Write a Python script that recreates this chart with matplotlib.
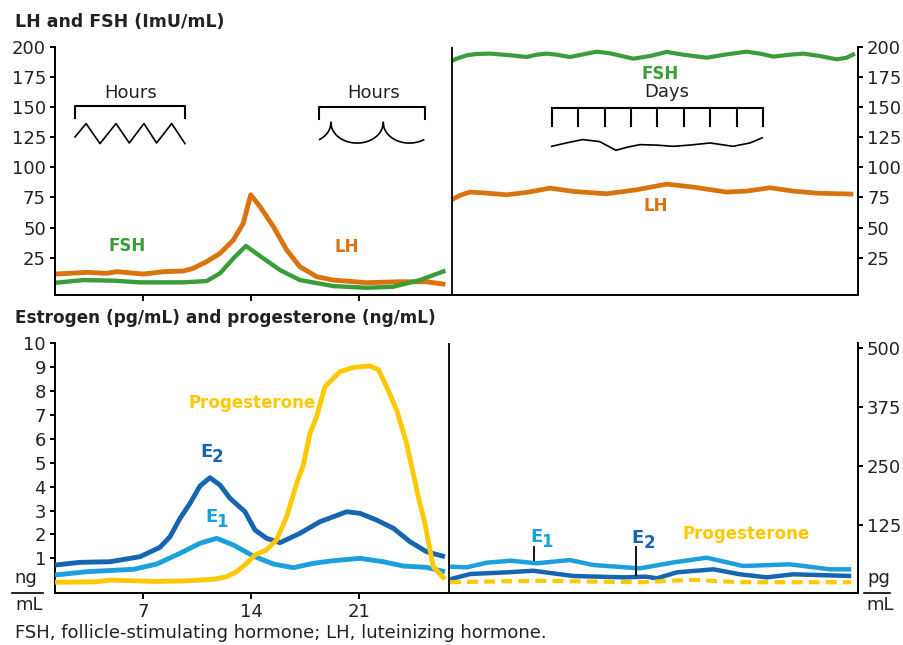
import matplotlib
matplotlib.use("Agg")
import matplotlib.pyplot as plt
from matplotlib.lines import Line2D
import numpy as np

plt.rcParams['font.family'] = ['DejaVu Sans']

C_LH = '#D9730D'
C_FSH = '#3A9D3A'
C_E2 = '#1565B0'
C_E1 = '#1BA0DD'
C_PROG = '#FFC800'
C_TXT = '#222222'

# ---------------- Menstrual cycle: gonadotropins (mIU/mL) ----------------
lh_day = [1.35, 3.35, 4.64, 5.29, 7.02, 8.32, 9.61, 10.26, 11.13, 11.99, 12.86,
          13.5, 13.98, 14.58, 15.45, 16.31, 17.17, 18.25, 19.33, 21.5, 23.65,
          25.38, 26.6]
lh = [11.4, 12.8, 12.0, 13.4, 11.4, 13.4, 13.9, 16.2, 21.7, 28.6, 39.7,
      53.6, 77.2, 67.5, 50.8, 31.4, 17.5, 9.2, 6.4, 4.2, 5.0, 5.0, 2.8]

fsh_day = [1.35, 3.13, 5.07, 6.80, 9.61, 11.13, 11.99, 12.86, 13.67, 14.58,
           15.88, 17.17, 19.33, 21.5, 23.2, 24.95, 26.6]
fsh = [4.2, 6.4, 5.9, 4.5, 4.5, 5.6, 12.0, 24.5, 34.7, 26.4,
       14.7, 6.4, 1.4, 0.0, 0.8, 6.4, 14.2]

# ---------------- Postmenopause: gonadotropins ----------------
post_fsh_day = [27.0, 27.33, 27.98, 28.62, 29.49, 30.57, 31.86, 32.51, 33.16,
                33.81, 34.67, 35.54, 36.40, 37.27, 38.78, 39.86, 40.94, 42.02,
                43.53, 44.83, 46.12, 46.99, 47.85, 48.93, 49.79, 50.87, 51.96,
                52.60, 53.14]
post_fsh = [188.4, 190.3, 193.1, 194.2, 194.5, 193.4, 191.7, 193.6, 194.5,
            193.6, 191.7, 193.9, 196.1, 194.75, 190.3, 192.5, 195.9, 193.6,
            191.1, 193.9, 196.1, 194.5, 192.0, 193.6, 194.5, 192.5, 189.75,
            191.1, 194.5]

post_lh_day = [27.0, 27.54, 28.19, 29.27, 30.57, 31.86, 33.38, 34.89, 37.05,
               38.99, 40.94, 42.67, 44.83, 46.12, 47.63, 49.15, 50.66, 53.04]
post_lh = [73.1, 76.7, 79.5, 78.6, 77.25, 79.2, 82.8, 80.0, 78.1,
           81.4, 86.1, 83.6, 79.5, 80.3, 83.1, 80.3, 78.6, 77.8]

# ---------------- Menstrual cycle: steroids ----------------
e2_day = [1.30, 2.92, 4.86, 6.80, 8.10, 8.75, 9.40, 10.05, 10.69, 11.34, 11.99,
          12.64, 13.61, 14.26, 15.01, 15.88, 17.17, 18.47, 20.2, 21.06, 22.14,
          23.23, 24.3, 25.38, 26.57]
e2 = [40.3, 46.0, 47.3, 57.9, 77.9, 100.4, 139.4, 171.3, 208.0, 225.6, 210.0,
      181.9, 153.4, 114.6, 97.0, 87.7, 107.6, 132.2, 153.4, 150.0, 135.8,
      118.2, 89.8, 68.5, 57.9]          # pg/mL

e1_day = [1.30, 3.35, 6.37, 7.89, 9.40, 10.69, 11.77, 12.86, 14.15, 15.45,
          16.74, 18.04, 19.33, 21.06, 22.57, 23.87, 25.38, 26.57]
e1 = [19.1, 26.1, 31.2, 42.4, 65.2, 86.4, 97.0, 82.8, 59.4, 42.4,
      34.6, 43.9, 49.5, 54.5, 47.3, 38.2, 35.4, 26.1]     # pg/mL

prog_day = [1.30, 2.05, 4.0, 4.86, 7.89, 9.83, 11.56, 12.42, 13.07, 13.72,
            14.26, 15.0, 15.66, 16.31, 16.96, 17.39, 17.82, 18.25, 18.79,
            19.76, 20.63, 21.71, 22.25, 22.79, 23.44, 24.09, 24.84, 25.27,
            25.81, 26.57]
prog = [0.0, 0.0, 0.02, 0.09, 0.03, 0.06, 0.12, 0.23, 0.44, 0.79,
        1.14, 1.35, 1.77, 2.74, 4.14, 4.9, 6.23, 6.92, 8.18,
        8.81, 8.99, 9.05, 8.9, 8.18, 7.2, 5.81, 3.58, 2.46,
        0.65, 0.12]                       # ng/mL

# ---------------- Postmenopause: steroids ----------------
post_e1_day = [26.9, 27.98, 29.27, 30.85, 32.5, 34.67, 36.18, 39.2, 41.4,
               43.53, 45.9, 48.93, 51.52, 52.9]
post_e1 = [36.8, 35.4, 45.3, 49.5, 43.9, 50.9, 40.3, 33.3, 46.0,
           55.8, 38.2, 41.8, 31.2, 31.2]

post_e2_day = [26.9, 28.19, 30.57, 32.3, 34.89, 38.13, 39.6, 40.3, 41.6,
               43.97, 45.69, 47.42, 49.14, 52.9]
post_e2 = [10.0, 21.2, 24.8, 28.2, 17.0, 14.2, 15.6, 12.1, 24.8,
           31.2, 20.6, 14.2, 20.6, 17.0]

post_prog_day = [26.9, 30.57, 32.5, 39.2, 42.6, 45.7, 52.9]
post_prog = [0.0, 0.04, 0.06, 0.0, 0.1, 0.0, 0.0]

cycle_ticks = [7, 14, 21]
gonad_ticks = [25, 50, 75, 100, 125, 150, 175, 200]
ng_ticks = [1, 2, 3, 4, 5, 6, 7, 8, 9, 10]
pg_ticks = [125, 250, 375, 500]

# Secretion pattern sketches (shape of pulses)
zig_x = [2.59, 3.31, 4.21, 5.25, 6.11, 7.06, 7.88, 8.86, 9.72]
zig_y = [125.3, 136.4, 119.75, 136.4, 120.3, 136.4, 120.3, 136.4, 119.75]
wave_x = [33.49, 34.5, 35.5, 36.6, 37.65, 38.4, 39.2, 40.3, 41.35, 42.5,
          43.75, 45.24, 46.34, 47.12]
wave_y = [117.5, 120.5, 123.1, 121.4, 114.2, 116.8, 118.9, 118.5, 117.5, 118.6,
          120.3, 117.5, 120.3, 124.5]

XLIM = (1.296, 53.34)

fig = plt.figure(figsize=(9.04, 6.45), dpi=100)
ax_t = fig.add_axes([55 / 904, 350 / 645, 803 / 904, 248 / 645])
ax_b = fig.add_axes([55 / 904, 51.7 / 645, 803 / 904, 250 / 645])
ax_b2 = ax_b.twinx()

# ---------------- top row ----------------
lw = 3.5
ax_t.plot(lh_day, lh, color=C_LH, lw=lw, solid_capstyle='butt', solid_joinstyle='round')
ax_t.plot(fsh_day, fsh, color=C_FSH, lw=lw * 0.9, solid_capstyle='butt', solid_joinstyle='round')
ax_t.plot(post_fsh_day, post_fsh, color=C_FSH, lw=3.0, solid_capstyle='butt', solid_joinstyle='round')
ax_t.plot(post_lh_day, post_lh, color=C_LH, lw=3.4, solid_capstyle='butt', solid_joinstyle='round')
ax_t.axvline(27.0, color='black', lw=1.3)

ax_t.set_xlim(*XLIM)
ax_t.set_ylim(-6, 200)
ax_t.set_xticks(cycle_ticks)
ax_t.set_yticks(gonad_ticks)
ax_t.tick_params(axis='x', labelbottom=False, length=4, width=1.4, direction='out')
ax_t.tick_params(axis='y', left=True, right=True, labelleft=True, labelright=True,
                 length=3.5, width=1.4, direction='out', labelsize=13,
                 labelcolor=C_TXT, pad=3)
for s in ('left', 'right', 'bottom'):
    ax_t.spines[s].set_linewidth(1.4)
ax_t.spines['top'].set_visible(False)

bold = dict(fontweight='bold', fontsize=12)
ax_t.text(5.96, 34.7, 'FSH', color=C_FSH, ha='center', va='center', **bold)
ax_t.text(20.19, 33.9, 'LH', color=C_LH, ha='center', va='center', **bold)
ax_t.text(40.5, 177.8, 'FSH', color=C_FSH, ha='center', va='center', **bold)
ax_t.text(40.25, 68.3, 'LH', color=C_LH, ha='center', va='center', **bold)

# pulsatile (hours) sketches
sk = dict(color='black', lw=1.2)
ax_t.plot([2.59, 2.59, 9.72, 9.72], [141.4, 150.8, 150.8, 141.4], color='black', lw=1.5)
ax_t.text(6.2, 161.5, 'Hours', ha='center', va='center', fontsize=13, color=C_TXT)
ax_t.plot(zig_x, zig_y, **sk)

ax_t.plot([18.4, 18.4, 25.28, 25.28], [140.6, 150.0, 150.0, 140.6], color='black', lw=1.5)
ax_t.text(21.95, 161.5, 'Hours', ha='center', va='center', fontsize=13, color=C_TXT)
period, top, depth = 3.39, 137.2, 17.0
cusps = [15.79, 19.18, 22.57]
for c in cusps:
    xs = np.linspace(c, c + period, 80)
    m, h = c + period / 2, period / 2
    ys = top - depth * np.sqrt(np.clip(1 - ((xs - m) / h) ** 2, 0, 1))
    keep = (xs >= 18.41) & (xs <= 25.21)
    ax_t.plot(xs[keep], ys[keep], **sk)

# daily sketch
ax_t.text(40.96, 162.5, 'Days', ha='center', va='center', fontsize=13, color=C_TXT)
ax_t.plot([33.49, 47.2], [149.5, 149.5], color='black', lw=1.5)
for tx in np.linspace(33.49, 47.2, 9):
    ax_t.plot([tx, tx], [149.5, 134.2], color='black', lw=1.5)
ax_t.plot(wave_x, wave_y, **sk)

fig.text(15 / 904, 1 - 22 / 645, 'LH and FSH (ImU/mL)', ha='left', va='center',
         fontsize=12.5, fontweight='bold', color=C_TXT)

# ---------------- bottom row ----------------
ax_b2.plot(e2_day, e2, color=C_E2, lw=3.5, solid_capstyle='butt', solid_joinstyle='round')
ax_b2.plot(e1_day, e1, color=C_E1, lw=3.5, solid_capstyle='butt', solid_joinstyle='round')
ax_b2.plot(post_e1_day, post_e1, color=C_E1, lw=3.2, solid_capstyle='butt', solid_joinstyle='round')
ax_b2.plot(post_e2_day, post_e2, color=C_E2, lw=3.2, solid_capstyle='butt', solid_joinstyle='round')
ax_b2.plot(prog_day, prog, color=C_PROG, lw=3.5, solid_capstyle='butt',
           solid_joinstyle='round', transform=ax_b.transData)
ax_b2.plot(post_prog_day, post_prog, color=C_PROG, lw=3.0, dashes=(2.6, 1.5),
           dash_capstyle='butt', transform=ax_b.transData)
ax_b.axvline(26.83, color='black', lw=1.3)

ax_b.set_xlim(*XLIM)
ax_b.set_ylim(-0.464, 10.0)
ax_b2.set_ylim(-19.7, 510.9)
ax_b.set_xticks(cycle_ticks)
ax_b.set_xticklabels([str(t) for t in cycle_ticks])
ax_b.set_yticks(ng_ticks)
ax_b2.set_yticks(pg_ticks)
ax_b.tick_params(axis='x', length=4, width=1.4, direction='out', labelsize=13,
                 labelcolor=C_TXT, pad=3)
ax_b.tick_params(axis='y', length=3.5, width=1.4, direction='out', labelsize=13,
                 labelcolor=C_TXT, pad=3)
ax_b2.tick_params(axis='y', length=3.5, width=1.4, direction='out', labelsize=13,
                  labelcolor=C_TXT, pad=3)
ax_b.spines['left'].set_linewidth(1.4)
ax_b.spines['bottom'].set_linewidth(1.4)
for s in ('top', 'right'):
    ax_b.spines[s].set_visible(False)
for s in ('top', 'left', 'bottom'):
    ax_b2.spines[s].set_visible(False)
ax_b2.spines['right'].set_linewidth(1.4)


def e_label(ax, x, y, sub, color):
    ax.text(x, y, 'E', color=color, ha='left', va='center', fontsize=13,
            fontweight='bold')
    ax.annotate(sub, xy=(x, y), xytext=(8.3, -3.5), textcoords='offset points',
                color=color, ha='left', va='center', fontsize=12, fontweight='bold')


e_label(ax_b2, 10.69, 280.0, '2', C_E2)
e_label(ax_b2, 11.02, 142.2, '1', C_E1)
e_label(ax_b2, 32.08, 99.7, '1', C_E1)
e_label(ax_b2, 38.67, 97.6, '2', C_E2)
ax_b2.plot([32.34, 32.34], [79.2, 50.9], color='black', lw=1.3)
ax_b2.plot([38.95, 38.95], [78.5, 19.1], color='black', lw=1.3)

ax_b.text(14.06, 7.49, 'Progesterone', color=C_PROG, ha='center', va='center', **bold)
ax_b.text(46.08, 2.0, 'Progesterone', color=C_PROG, ha='center', va='center', **bold)

fig.text(15 / 904, 1 - 318 / 645, 'Estrogen (pg/mL) and progesterone (ng/mL)',
         ha='left', va='center', fontsize=12.2, fontweight='bold', color=C_TXT)

# unit fractions beside the axes
fig.text(26 / 904, 1 - 578 / 645, 'ng', ha='center', va='center', fontsize=13, color=C_TXT)
fig.text(29.5 / 904, 1 - 605 / 645, 'mL', ha='center', va='center', fontsize=13, color=C_TXT)
fig.add_artist(Line2D([12 / 904, 43 / 904], [1 - 593.3 / 645] * 2,
                      transform=fig.transFigure, color='black', lw=1.2))
fig.text(879 / 904, 1 - 578 / 645, 'pg', ha='center', va='center', fontsize=13, color=C_TXT)
fig.text(880.5 / 904, 1 - 605 / 645, 'mL', ha='center', va='center', fontsize=13, color=C_TXT)
fig.add_artist(Line2D([864 / 904, 890 / 904], [1 - 593.3 / 645] * 2,
                      transform=fig.transFigure, color='black', lw=1.2))

fig.text(15 / 904, 1 - 633 / 645,
         'FSH, follicle-stimulating hormone; LH, luteinizing hormone.',
         ha='left', va='center', fontsize=13, color=C_TXT)

fig.savefig('out.png', dpi=100)
